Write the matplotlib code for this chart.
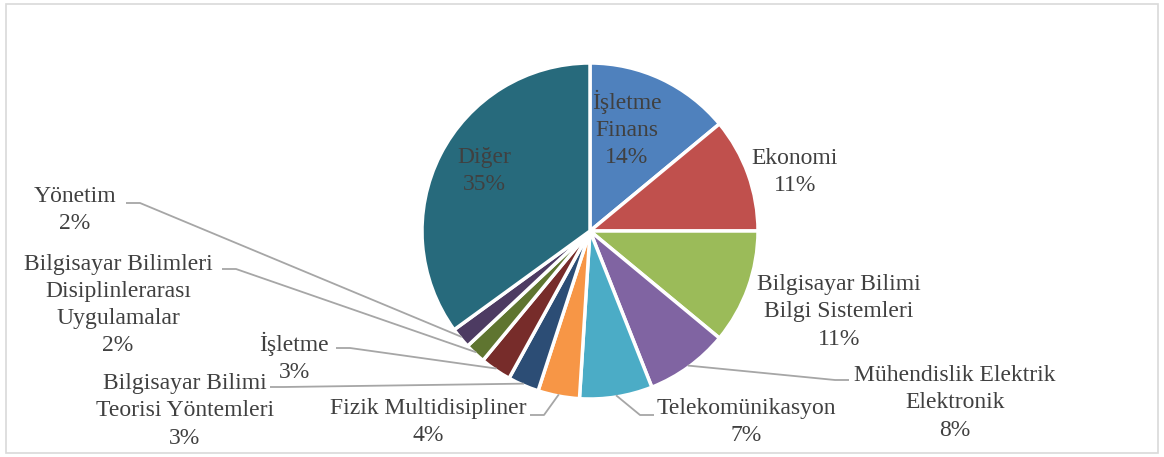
import numpy as np
import matplotlib.pyplot as plt
from matplotlib.patches import Rectangle

plt.rcParams['font.family'] = ['Liberation Serif', 'DejaVu Serif']

# dilim verileri (saat yönünde, tepeden başlayarak)
labels = ['İşletme\nFinans', 'Ekonomi', 'Bilgisayar Bilimi\nBilgi Sistemleri',
          'Mühendislik Elektrik\nElektronik', 'Telekomünikasyon', 'Fizik Multidisipliner',
          'Bilgisayar Bilimi\nTeorisi Yöntemleri', 'İşletme',
          'Bilgisayar Bilimleri\nDisiplinlerarası\nUygulamalar', 'Yönetim', 'Diğer']
values = [14, 11, 11, 8, 7, 4, 3, 3, 2, 2, 35]
colors = ['#4F81BD', '#C0504D', '#9BBB59', '#8064A2', '#4BACC6', '#F79646',
          '#2C4D75', '#772C2A', '#5F7530', '#4D3B62', '#276A7C']

W, H = 1164, 457
fig = plt.figure(figsize=(W / 100, H / 100), dpi=100)
ax = fig.add_axes([0, 0, 1, 1])

cx, cy, r = 590, H - 231, 168
wedges, _ = ax.pie(values, colors=colors, startangle=90, counterclock=False,
                   center=(cx, cy), radius=r, frame=True,
                   wedgeprops=dict(edgecolor='white', linewidth=2.5))
ax.set_xlim(0, W)
ax.set_ylim(0, H)
ax.set_aspect('equal')
ax.axis('off')

ax.add_patch(Rectangle((6, 4), 1152, 449, fill=False, edgecolor='#D9D9D9', linewidth=1.2))

txt = '#404040'
fs = 17

# etiket konumları (piksel, üstten): (x, y, çizgi ucu)
label_pos = {
    0: (627, 129, None),
    1: (795, 172, None),
    2: (839, 312, None),
    3: (955, 403, (849, 380, -1)),
    4: (746, 422, (654, 415, -1)),
    5: (428, 422, (530, 415, 1)),
    6: (185, 411, (270, 387, 1)),
    7: (294, 357, (336, 348, 1)),
    8: (118, 305, (222, 269, 1)),
    9: (75, 210, (126, 203, 1)),
    10: (484, 171, None),
}

for i, w in enumerate(wedges):
    x, y, lead = label_pos[i]
    s = labels[i] + '\n' + f'{values[i]}%'
    ax.text(x, H - y, s, ha='center', va='center', fontsize=fs, color=txt,
            linespacing=1.38)
    if lead is not None:
        ang = np.deg2rad((w.theta1 + w.theta2) / 2)
        px = cx + r * 0.99 * np.cos(ang)
        py = cy + r * 0.99 * np.sin(ang)
        lx, ly, d = lead
        ax.plot([lx, lx + 14 * d, px], [H - ly, H - ly, py], color='#A6A6A6',
                linewidth=1.3, solid_capstyle='butt')

fig.savefig('out.png', dpi=100)
